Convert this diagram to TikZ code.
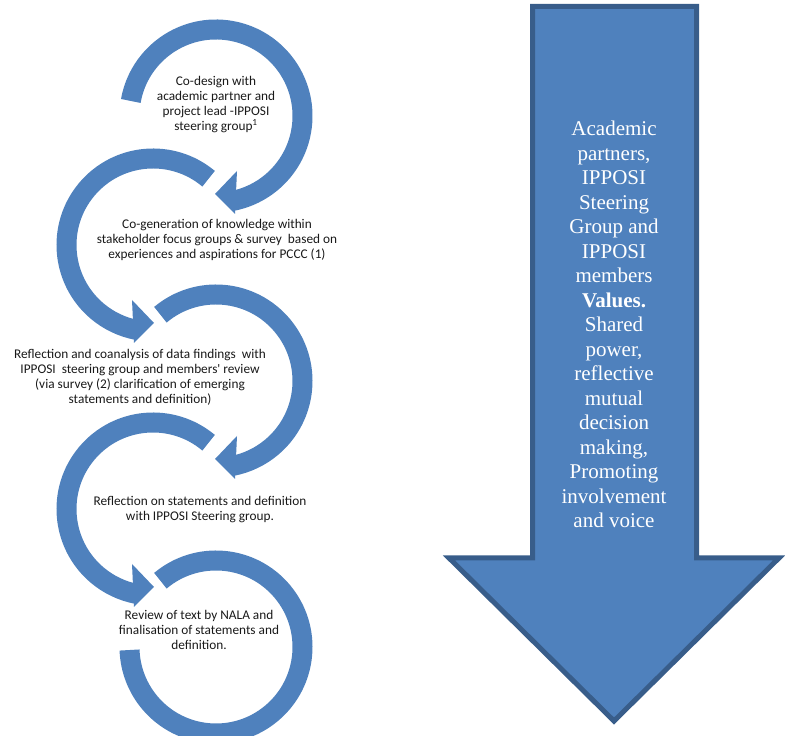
\documentclass[tikz,border=0pt]{standalone}
\usepackage{fontspec}
\setmainfont{Liberation Serif}
\newfontfamily\calibri{Carlito}
\usepackage{xcolor}
\usepackage{tikz}
\usetikzlibrary{calc}
\definecolor{ringblue}{HTML}{4F81BD}
\definecolor{edgeblue}{HTML}{385D8A}

\begin{document}
\begin{tikzpicture}[x=1pt, y=1pt,
    ring/.style={draw=ringblue, line width=20pt},
    head/.style={fill=ringblue},
    steptext/.style={font=\calibri\fontsize{13.3}{15}\selectfont, align=center, text=black!90, inner sep=0pt},
    arrowtext/.style={font=\fontsize{21}{24.5}\selectfont, align=center, text=white, inner sep=0pt}]
    \useasboundingbox (0,0) rectangle (785,736);

    % centres of the five rings
    \coordinate (c1) at (216,620);
    \coordinate (c2) at (153,491);
    \coordinate (c3) at (216,355);
    \coordinate (c4) at (153,227);
    \coordinate (c5) at (216,89);

    % ring 1, clockwise
    \draw[ring] (c1) ++(170:86.5) arc[start angle=170, end angle=-79, radius=86.5];
    \fill[head, shift={(c1)}] (21,-55) -- (19,-98) -- (-1,-78) -- cycle;
    % ring 2, anticlockwise
    \draw[ring] (c2) ++(50:86.5) arc[start angle=50, end angle=259, radius=86.5];
    \fill[head, shift={(c2)}] (-21,-55) -- (-19,-98) -- (1,-78) -- cycle;
    % ring 3
    \draw[ring] (c3) ++(130:86.5) arc[start angle=130, end angle=-79, radius=86.5];
    \fill[head, shift={(c3)}] (21,-55) -- (19,-98) -- (-1,-78) -- cycle;
    % ring 4
    \draw[ring] (c4) ++(50:86.5) arc[start angle=50, end angle=259, radius=86.5];
    \fill[head, shift={(c4)}] (-21,-55) -- (-19,-98) -- (1,-78) -- cycle;
    % ring 5, no head
    \draw[ring] (c5) ++(130:86.5) arc[start angle=130, end angle=-178, radius=86.5];

    \node[steptext] (t1) at (216,631) {Co-design with\\academic partner and\\project lead -IPPOSI\\steering group\textsuperscript{1}};
    \node[steptext] (t2) at (217,496) {Co-generation of knowledge within\\stakeholder focus groups \& survey~ based on\\experiences and aspirations for PCCC (1)};
    \node[steptext] (t3) at (140,359) {Reflection and coanalysis of data findings~ with\\IPPOSI~ steering group and members' review\\(via survey (2) clarification of emerging\\statements and definition)};
    \node[steptext] (t4) at (200,226) {Reflection on statements and definition\\with IPPOSI Steering group.};
    \node[steptext] (t5) at (199,106) {Review of text by NALA and\\finalisation of statements and\\definition.};

    % big arrow
    \draw[fill=ringblue, draw=edgeblue, line width=5pt] (532.5,729.5) -- (696.5,729.5) -- (696.5,178) -- (779,178) -- (614,15) -- (449,178) -- (532.5,178) -- cycle;
    \node[arrowtext, anchor=north] (values) at (614,615) {Academic\\partners,\\IPPOSI\\Steering\\Group and\\IPPOSI\\members\\\textbf{Values.}\\Shared\\power,\\reflective\\mutual\\decision\\making,\\Promoting\\involvement\\and voice};
\end{tikzpicture}
\end{document}
